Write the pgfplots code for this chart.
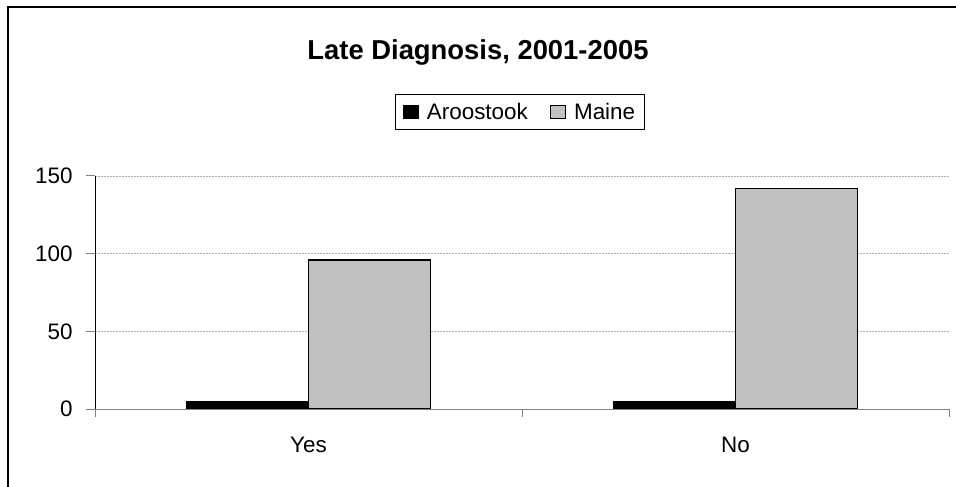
\documentclass[border=0pt]{standalone}
\usepackage{pgfplots}
\pgfplotsset{compat=1.18}
\usepackage{fontspec}
\setmainfont{Liberation Sans}
\definecolor{maineg}{RGB}{192,192,192}
\definecolor{gridg}{RGB}{175,175,175}
\begin{document}
\begin{tikzpicture}
\path[use as bounding box, fill=white] (0,0) rectangle (956bp,487bp);
\draw[black, line width=1.5bp] (8bp,0bp) -- (8bp,480bp) -- (956bp,480bp);
\node[anchor=base, font=\fontsize{27.5}{32}\selectfont\bfseries] at (478bp,427bp) {Late Diagnosis, 2001-2005};
\begin{axis}[
  at={(95bp,78bp)}, anchor=south west,
  scale only axis, width=854bp, height=233bp,
  /pgf/number format/assume math mode=true,
  ybar=0pt, bar width=122bp,
  xmin=0.5, xmax=2.5, ymin=0, ymax=150,
  xtick={1,2}, xticklabels={Yes,No},
  minor xtick={0.5,1.5,2.5},
  ytick={0,50,100,150},
  axis x line*=bottom, axis y line*=left,
  x axis line style={color=gray, line width=1bp, -},
  y axis line style={color=black, line width=1bp, -},
  tick align=outside,
  major tick length=9bp, minor tick length=8bp,
  major x tick style={draw=none},
  minor x tick style={gray, line width=1bp},
  ytick style={gray, line width=1bp},
  ymajorgrids,
  grid style={gridg, line width=0.7bp, dash pattern=on 1.5bp off 1.5bp},
  tick label style={font=\fontsize{22.5}{26}\selectfont},
  yticklabel style={xshift=-10bp},
  xticklabel style={yshift=-16bp},
  legend columns=2,
  legend style={at={(0.4977,1.2747)}, anchor=center, draw=black, line width=1bp,
    font=\fontsize{22.5}{26}\selectfont, inner xsep=7bp, inner ysep=7bp,
    /tikz/every even column/.append style={column sep=20bp}},
  legend image code/.code={\draw[#1, line width=1bp] (0bp,-6.5bp) rectangle (15bp,6.5bp); \path (21bp,0bp);},
]
\addplot[fill=black, draw=black, line width=1bp] coordinates {(1,5) (2,5)};
\addplot[fill=maineg, draw=black, line width=1.5bp] coordinates {(1,96) (2,142)};
\legend{Aroostook, Maine}
\end{axis}
\end{tikzpicture}
\end{document}
